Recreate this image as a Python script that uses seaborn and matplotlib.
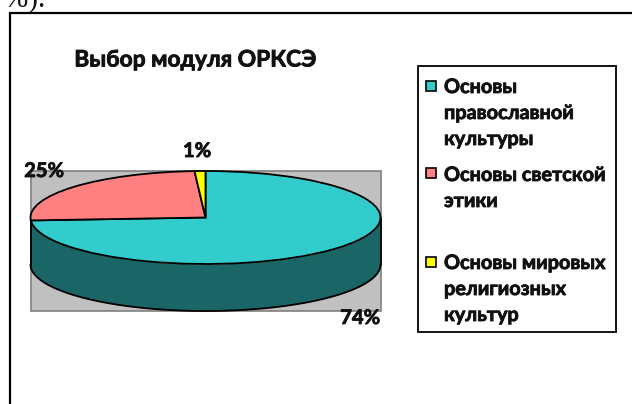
import numpy as np
import matplotlib
matplotlib.use("Agg")
import matplotlib.pyplot as plt
import matplotlib.patheffects as pe
from matplotlib.patches import Rectangle
import seaborn as sns

# ---- data ----
title = "Выбор модуля ОРКСЭ"
modules = ["Основы\nправославной\nкультуры", "Основы светской\nэтики", "Основы мировых\nрелигиозных\nкультур"]
shares = [74, 25, 1]
share_labels = ["74%", "25%", "1%"]
colors = ["#33CCCC", "#FF8080", "#FFFF00"]
wall_color = "#1A6666"

# ---- layout (pixels) ----
W, H = 632, 404
cx, cy, rx, ry, depth = 205.5, 217.5, 175.0, 46.5, 47.0
label_pos = [(360, 318), (44, 171), (197, 151)]
legend_line_y = [[87, 113, 139], [175, 201], [263, 289, 315]]
legend_swatch_y = [86, 173, 262]

sns.set_theme(style="white")
plt.rcParams["font.family"] = ["Lato", "DejaVu Sans"]
plt.rcParams["font.weight"] = "bold"
embolden = [pe.withStroke(linewidth=0.6, foreground="#111111")]

fig = plt.figure(figsize=(W / 100, H / 100), dpi=100, facecolor="white")
bg = fig.add_axes([0, 0, 1, 1], zorder=0)
bg.set_xlim(0, W)
bg.set_ylim(H, 0)
bg.axis("off")

# clipped body text above the chart and chart frame
bg.text(45, 6.5, "%).", ha="right", va="baseline", fontsize=21, color="#111111",
        family="Liberation Serif", weight="normal")
bg.plot([10, 10, W], [H, 13, 13], color="black", lw=1.6, solid_joinstyle="miter")

# gray plot area
bg.add_patch(Rectangle((cx - rx, cy - ry), 2 * rx, 2 * ry + depth,
                       facecolor="#C0C0C0", edgecolor="#808080", lw=1.2))

# pie top + wall, in an axes that spans exactly the ellipse
pie_ax = fig.add_axes([(cx - rx) / W, 1 - (cy + ry) / H, 2 * rx / W, 2 * ry / H], zorder=2)
wedges, _ = pie_ax.pie(shares, colors=colors, startangle=90, counterclock=False,
                       radius=1, wedgeprops=dict(edgecolor="black", linewidth=1.3, zorder=3))
pie_ax.set_aspect("auto")
pie_ax.set_xlim(-1, 1)
pie_ax.set_ylim(-1, 1)
pie_ax.patch.set_alpha(0)
for w in wedges:
    w.set_clip_on(False)

# front wall below the ellipse
theta = np.radians(np.linspace(180, 360, 200))
x = np.cos(theta)
top = np.sin(theta)
drop = depth / ry
pie_ax.fill_between(x, top - drop, top, color=wall_color, zorder=1, clip_on=False, lw=0)
pie_ax.plot(x, top - drop, color="black", lw=1.3, clip_on=False, zorder=2)
for i in (0, -1):
    pie_ax.plot([x[i], x[i]], [top[i], top[i] - drop], color="black", lw=1.3, clip_on=False, zorder=2)

# overlay: labels, title, legend
top_ax = fig.add_axes([0, 0, 1, 1], zorder=4)
top_ax.set_xlim(0, W)
top_ax.set_ylim(H, 0)
top_ax.axis("off")
for (px, py), s in zip(label_pos, share_labels):
    top_ax.text(px, py, s, ha="center", va="center", fontsize=14.5, color="#111111", path_effects=embolden)

top_ax.text(195, 60, title, ha="center", va="center", fontsize=16.4, color="#111111", path_effects=embolden)

top_ax.add_patch(Rectangle((418, 66), 198, 266, facecolor="white", edgecolor="black", lw=1.3))
for name, col, ys, sy in zip(modules, colors, legend_line_y, legend_swatch_y):
    top_ax.add_patch(Rectangle((426, sy - 5), 10, 10, facecolor=col, edgecolor="black", lw=1.2))
    for line, ly in zip(name.split("\n"), ys):
        top_ax.text(444, ly, line, ha="left", va="center", fontsize=14.3, color="#111111", path_effects=embolden)

fig.savefig("out.png", dpi=100, facecolor="white")
